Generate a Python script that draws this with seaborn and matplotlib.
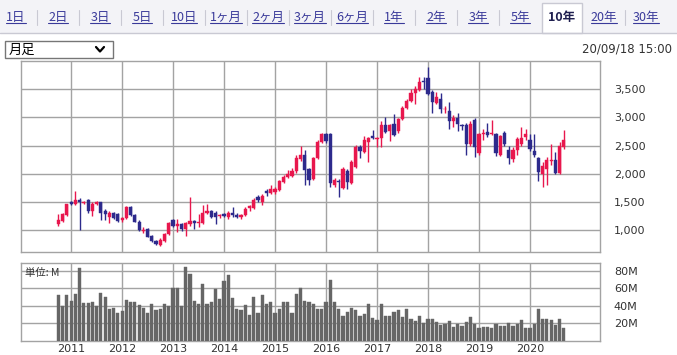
import numpy as np
import pandas as pd
import matplotlib
matplotlib.use("Agg")
import matplotlib.pyplot as plt
from matplotlib.patches import Rectangle
from matplotlib.lines import Line2D
import seaborn as sns

# monthly candles, Oct 2010 .. Sep 2020
start = "2010-10"
opens = [1100, 1160, 1270, 1490, 1460, 1540, 1480, 1530, 1340, 1460,
         1490, 1330, 1240, 1300, 1280, 1180, 1210, 1400, 1270, 1150,
         980, 1010, 890, 810, 740, 810, 930, 1170, 1080, 1100,
         1020, 1100, 1160, 1120, 1130, 1300, 1330, 1310, 1250, 1280,
         1230, 1310, 1270, 1240, 1270, 1390, 1390, 1590, 1500, 1700,
         1660, 1680, 1710, 1860, 1940, 1960, 2040, 2260, 2340, 2080,
         1900, 2280, 2570, 2710, 2700, 1800, 1870, 1750, 2050, 1840,
         2120, 2470, 2390, 2570, 2670, 2620, 2640, 2860, 2760, 2880,
         2750, 2970, 3160, 3290, 3440, 3490, 3650, 3690, 3450, 3260,
         3320, 3140, 3120, 2940, 2990, 2860, 2860, 2520, 2960, 2360,
         2700, 2740, 2700, 2700, 2340, 2730, 2420, 2260, 2420, 2520,
         2650, 2600, 2400, 2270, 2000, 2080, 2220, 2240, 2010, 2480]
highs = [1290, 1300, 1470, 1520, 1690, 1560, 1520, 1550, 1490, 1510,
         1500, 1380, 1330, 1320, 1300, 1240, 1430, 1420, 1290, 1170,
         1050, 1040, 910, 830, 850, 950, 1140, 1190, 1190, 1130,
         1140, 1590, 1170, 1280, 1440, 1470, 1360, 1330, 1290, 1300,
         1330, 1400, 1300, 1280, 1410, 1440, 1560, 1620, 1640, 1720,
         1800, 1770, 1890, 1970, 2060, 2100, 2330, 2490, 2420, 2100,
         2290, 2600, 2730, 2730, 2720, 1920, 1900, 2110, 2090, 2240,
         2510, 2510, 2660, 2650, 2770, 2650, 2930, 3000, 2880, 3060,
         2990, 3200, 3330, 3500, 3560, 3720, 3720, 3900, 3480, 3450,
         3440, 3200, 3270, 3050, 3080, 2880, 2900, 2940, 2980, 2720,
         2800, 2900, 2960, 2720, 2690, 2760, 2490, 2470, 2650, 2820,
         2790, 2700, 2700, 2290, 2200, 2300, 2530, 2390, 2560, 2780]
lows = [1070, 1140, 1250, 1440, 1440, 1000, 1460, 1310, 1250, 1440,
        1170, 1180, 1130, 1190, 1140, 1150, 1190, 1250, 1140, 990,
        940, 870, 790, 740, 720, 790, 920, 1060, 960, 990,
        900, 1080, 1020, 1060, 1110, 1280, 1210, 1100, 1220, 1230,
        1200, 1240, 1220, 1200, 1250, 1330, 1370, 1490, 1450, 1600,
        1640, 1640, 1690, 1840, 1920, 1940, 2020, 2230, 1800, 1800,
        1880, 2260, 2550, 2550, 1760, 1760, 1590, 1720, 1720, 1820,
        2100, 2280, 2370, 2210, 2610, 2480, 2480, 2720, 2580, 2660,
        2730, 2950, 3140, 3270, 3240, 3470, 3500, 3400, 3070, 3240,
        3070, 3080, 2800, 2820, 2760, 2780, 2330, 2500, 2290, 2340,
        2600, 2650, 2680, 2320, 2310, 2500, 2170, 2200, 2340, 2500,
        2600, 2410, 2290, 1870, 1760, 1800, 2150, 2000, 2000, 2440]
closes = [1180, 1280, 1455, 1470, 1540, 1500, 1500, 1330, 1470, 1490,
          1310, 1280, 1310, 1210, 1160, 1210, 1400, 1270, 1150, 1000,
          1000, 880, 810, 760, 830, 930, 1120, 1080, 1110, 1010,
          1120, 1160, 1130, 1140, 1310, 1340, 1240, 1230, 1270, 1250,
          1310, 1260, 1240, 1260, 1380, 1420, 1530, 1530, 1600, 1660,
          1720, 1730, 1870, 1950, 2000, 2040, 2270, 2330, 2060, 1880,
          2270, 2570, 2710, 2580, 1830, 1890, 1850, 2090, 1860, 2210,
          2470, 2400, 2590, 2640, 2630, 2640, 2860, 2740, 2860, 2690,
          2970, 3160, 3290, 3430, 3500, 3620, 3620, 3420, 3280, 3360,
          3140, 3150, 2940, 2990, 2880, 2840, 2520, 2880, 2480, 2700,
          2730, 2680, 2720, 2370, 2670, 2520, 2270, 2420, 2610, 2640,
          2700, 2430, 2340, 2030, 2140, 2240, 2250, 2010, 2490, 2600]
# monthly volume, millions of shares
volume = [53, 40, 52, 46, 54, 83, 43, 43, 44, 40,
          55, 50, 36, 38, 32, 34, 47, 45, 45, 41,
          38, 32, 42, 35, 37, 42, 40, 60, 60, 40,
          84, 77, 46, 42, 65, 42, 45, 59, 48, 68,
          75, 49, 37, 35, 41, 30, 50, 32, 52, 42,
          44, 32, 37, 45, 45, 32, 54, 61, 46, 44,
          42, 37, 36, 45, 70, 45, 37, 28, 33, 38,
          35, 29, 31, 42, 26, 24, 42, 28, 29, 33,
          35, 27, 36, 25, 23, 29, 20, 25, 25, 21.5,
          18, 19, 23, 16, 19, 17, 21.5, 27, 19, 15,
          16, 16, 15, 19, 17, 17, 20, 17, 19, 24,
          15, 15, 19, 37, 25, 25, 24, 18, 25, 15]

price_ticks = [1000, 1500, 2000, 2500, 3000, 3500]
volume_ticks = [20, 40, 60, 80]
tabs = ["1日", "2日", "3日", "5日", "10日", "1ヶ月", "2ヶ月", "3ヶ月", "6ヶ月",
        "1年", "2年", "3年", "5年", "10年", "20年", "30年"]
selected_tab = "10年"
period_label = "月足"
stamp = "20/09/18 15:00"

W, H = 677, 355
RED = "#e8174d"
BLUE = "#2d2a8c"
GRID = "#a3a3a3"
TXT = "#333333"
JP = ["Noto Sans CJK JP", "DejaVu Sans"]

months = pd.period_range(start, periods=len(closes), freq="M")
df = pd.DataFrame({"pos": np.arange(len(months)), "open": opens, "high": highs,
                   "low": lows, "close": closes, "vol": volume})
year_pos = [i for i, p in enumerate(months) if p.month == 1]
year_lab = [str(months[i].year) for i in year_pos]

sns.set_style("white")
plt.rcParams["font.family"] = ["DejaVu Sans", "Noto Sans CJK JP"]


def fx(x):
    return x / W


def fy(y):
    return 1 - y / H


fig = plt.figure(figsize=(W / 100, H / 100), dpi=100)
fig.patch.set_facecolor("white")

# tab strip
fig.patches.append(Rectangle((0, fy(33)), 1, 33 / H, transform=fig.transFigure,
                             facecolor="#f3f3f7", edgecolor="none"))
fig.lines.append(Line2D([0, 1], [fy(33), fy(33)], transform=fig.transFigure,
                        color="#c9c9d3", lw=1))
tab_step = 42
tab_texts = []
for i, t in enumerate(tabs):
    cx = 16 + i * tab_step
    if t == selected_tab:
        fig.patches.append(Rectangle((fx(cx - 20), fy(33)), 40 / W, 30 / H,
                                     transform=fig.transFigure, facecolor="white",
                                     edgecolor="#c9c9d3", lw=1))
        fig.text(fx(cx), fy(17), t, ha="center", va="center", fontsize=9,
                 fontweight="bold", color="#1f1f4f", family=JP)
    else:
        tab_texts.append(fig.text(fx(cx), fy(17), t, ha="center", va="center",
                                  fontsize=9, color="#3a3a9a", family=JP))
    if i < len(tabs) - 1 and t != selected_tab and tabs[i + 1] != selected_tab:
        sx = cx + tab_step / 2
        fig.lines.append(Line2D([fx(sx), fx(sx)], [fy(10), fy(25)],
                                transform=fig.transFigure, color="#c9c9d3", lw=0.8))

# period selector and timestamp
fig.patches.append(Rectangle((fx(5), fy(58)), 108 / W, 17 / H, transform=fig.transFigure,
                             facecolor="white", edgecolor="#767676", lw=1))
fig.text(fx(9), fy(50), period_label, ha="left", va="center", fontsize=9.5,
         color="black", family=JP)
fig.lines.append(Line2D([fx(96), fx(100), fx(104)], [fy(47), fy(51.5), fy(47)],
                        transform=fig.transFigure, color="black", lw=1.6))
fig.text(fx(672), fy(49), stamp, ha="right", va="center", fontsize=8.5, color=TXT)

# price panel
ax = fig.add_axes([fx(21), fy(252), 579 / W, 191 / H])
for _, r in df.iterrows():
    c = RED if r["close"] >= r["open"] else BLUE
    ax.vlines(r["pos"], r["low"], r["high"], color=c, lw=1, zorder=3)
    body = max(abs(r["close"] - r["open"]), 16)
    ax.bar(r["pos"], body, bottom=min(r["open"], r["close"]), width=0.75,
           color=c, edgecolor=c, linewidth=0.3, zorder=4)
ax.set_xlim(-8.8, 127.5)
ax.set_ylim(610, 4000)
ax.set_xticks(year_pos)
ax.set_xticklabels([])
ax.set_yticks(price_ticks)
ax.set_yticklabels([f"{v:,}" for v in price_ticks])
ax.yaxis.tick_right()
ax.tick_params(axis="both", length=0, labelsize=8, labelcolor=TXT)
ax.tick_params(axis="y", pad=10)
ax.grid(True, color=GRID, lw=1)
ax.set_axisbelow(True)
for s in ax.spines.values():
    s.set_color(GRID)
    s.set_linewidth(1)

# volume panel
axv = fig.add_axes([fx(21), fy(341), 579 / W, 78 / H])
sns.barplot(data=df, x="pos", y="vol", native_scale=True, color="#666666",
            saturation=1, width=0.75, errorbar=None, ax=axv, zorder=3,
            edgecolor="#666666", linewidth=0.3)
axv.set_xlim(-8.8, 127.5)
axv.set_ylim(0, 89)
axv.set_xlabel("")
axv.set_ylabel("")
axv.set_xticks(year_pos)
axv.set_xticklabels(year_lab)
axv.set_yticks(volume_ticks)
axv.set_yticklabels([f"{v}M" for v in volume_ticks])
axv.yaxis.tick_right()
axv.tick_params(axis="both", length=0, labelsize=8, labelcolor=TXT)
axv.tick_params(axis="y", pad=10)
axv.tick_params(axis="x", pad=2)
axv.grid(True, color=GRID, lw=1)
axv.set_axisbelow(True)
for s in axv.spines.values():
    s.set_color(GRID)
    s.set_linewidth(1)
axv.text(fx(4) * W / 579, 0.94, "単位: M", transform=axv.transAxes, ha="left",
         va="top", fontsize=7.5, color=TXT, family=JP, zorder=5)

# underline the link tabs
fig.canvas.draw()
rend = fig.canvas.get_renderer()
for t in tab_texts:
    bb = t.get_window_extent(rend)
    fig.lines.append(Line2D([bb.x0 / W, bb.x1 / W], [(bb.y0 + 1) / H] * 2,
                            transform=fig.transFigure, color="#3a3a9a", lw=0.8))

fig.savefig("out.png", dpi=100)
